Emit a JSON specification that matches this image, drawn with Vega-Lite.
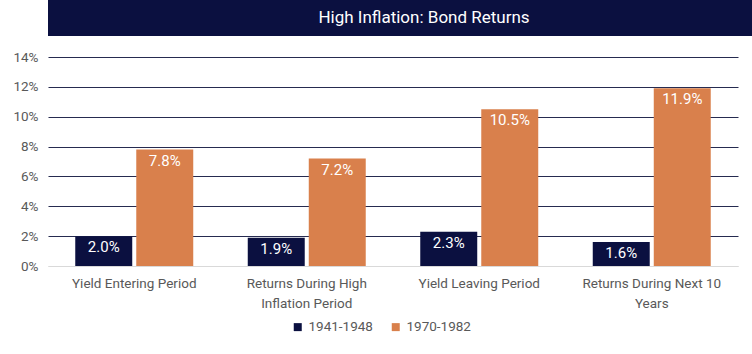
{
  "$schema": "https://vega.github.io/schema/vega-lite/v6.json",
  "background": "white",
  "padding": 0,
  "spacing": 14,
  "columns": 1,
  "align": "none",
  "config": {"font": "Roboto", "view": {"stroke": null}},
  "concat": [
    {
      "width": 752,
      "height": 36,
      "view": {"fill": "#0b1040", "stroke": null},
      "data": {"values": [{"title": "High Inflation: Bond Returns"}]},
      "mark": {"type": "text", "color": "white", "font": "Roboto", "fontSize": 17, "align": "center", "baseline": "middle"},
      "encoding": {"text": {"field": "title", "type": "nominal"}}
    },
    {
      "width": 690,
      "height": 209,
      "data": {
        "values": [
          {"category": "Yield Entering Period", "period": "1941-1948", "value": 0.020},
          {"category": "Yield Entering Period", "period": "1970-1982", "value": 0.078},
          {"category": "Returns During High Inflation Period", "period": "1941-1948", "value": 0.019},
          {"category": "Returns During High Inflation Period", "period": "1970-1982", "value": 0.072},
          {"category": "Yield Leaving Period", "period": "1941-1948", "value": 0.023},
          {"category": "Yield Leaving Period", "period": "1970-1982", "value": 0.105},
          {"category": "Returns During Next 10 Years", "period": "1941-1948", "value": 0.016},
          {"category": "Returns During Next 10 Years", "period": "1970-1982", "value": 0.119}
        ]
      },
      "encoding": {
        "x": {
          "field": "category",
          "type": "nominal",
          "sort": ["Yield Entering Period", "Returns During High Inflation Period", "Yield Leaving Period", "Returns During Next 10 Years"],
          "scale": {"paddingInner": 0.316, "paddingOuter": 0.158},
          "axis": {
            "title": null,
            "labelAngle": 0,
            "ticks": false,
            "domain": true,
            "domainColor": "#d9d9d9",
            "labelColor": "#595959",
            "labelFontSize": 13.5,
            "labelLineHeight": 20,
            "labelPadding": 10,
            "labelExpr": "datum.value == 'Returns During High Inflation Period' ? ['Returns During High', 'Inflation Period'] : datum.value == 'Returns During Next 10 Years' ? ['Returns During Next 10', 'Years'] : datum.value"
          }
        },
        "xOffset": {
          "field": "period",
          "type": "nominal",
          "scale": {"paddingInner": 0.066, "paddingOuter": 0}
        },
        "y": {
          "field": "value",
          "type": "quantitative",
          "scale": {"domain": [0, 0.14], "nice": false},
          "axis": {
            "title": null,
            "values": [0, 0.02, 0.04, 0.06, 0.08, 0.1, 0.12, 0.14],
            "format": ".0%",
            "domain": false,
            "ticks": false,
            "labelPadding": 10,
            "minExtent": 48,
            "labelColor": "#595959",
            "labelFontSize": 13.5,
            "gridColor": {"condition": {"test": "datum.value === 0", "value": "#d9d9d9"}, "value": "#262b50"},
            "gridWidth": 1
          }
        }
      },
      "layer": [
        {
          "mark": {"type": "bar"},
          "encoding": {
            "color": {
              "field": "period",
              "type": "nominal",
              "scale": {"domain": ["1941-1948", "1970-1982"], "range": ["#0b1040", "#d9804c"]},
              "legend": {
                "orient": "none",
                "legendX": 243,
                "legendY": 320,
                "direction": "horizontal",
                "title": null,
                "symbolType": "square",
                "symbolSize": 64,
                "labelOffset": 4,
                "labelFontSize": 13.5,
                "labelColor": "#595959",
                "columnPadding": 16
              }
            }
          }
        },
        {
          "mark": {"type": "text", "baseline": "middle", "dy": 11, "color": "white", "fontSize": 15},
          "encoding": {"text": {"field": "value", "type": "quantitative", "format": ".1%"}}
        }
      ]
    }
  ]
}
